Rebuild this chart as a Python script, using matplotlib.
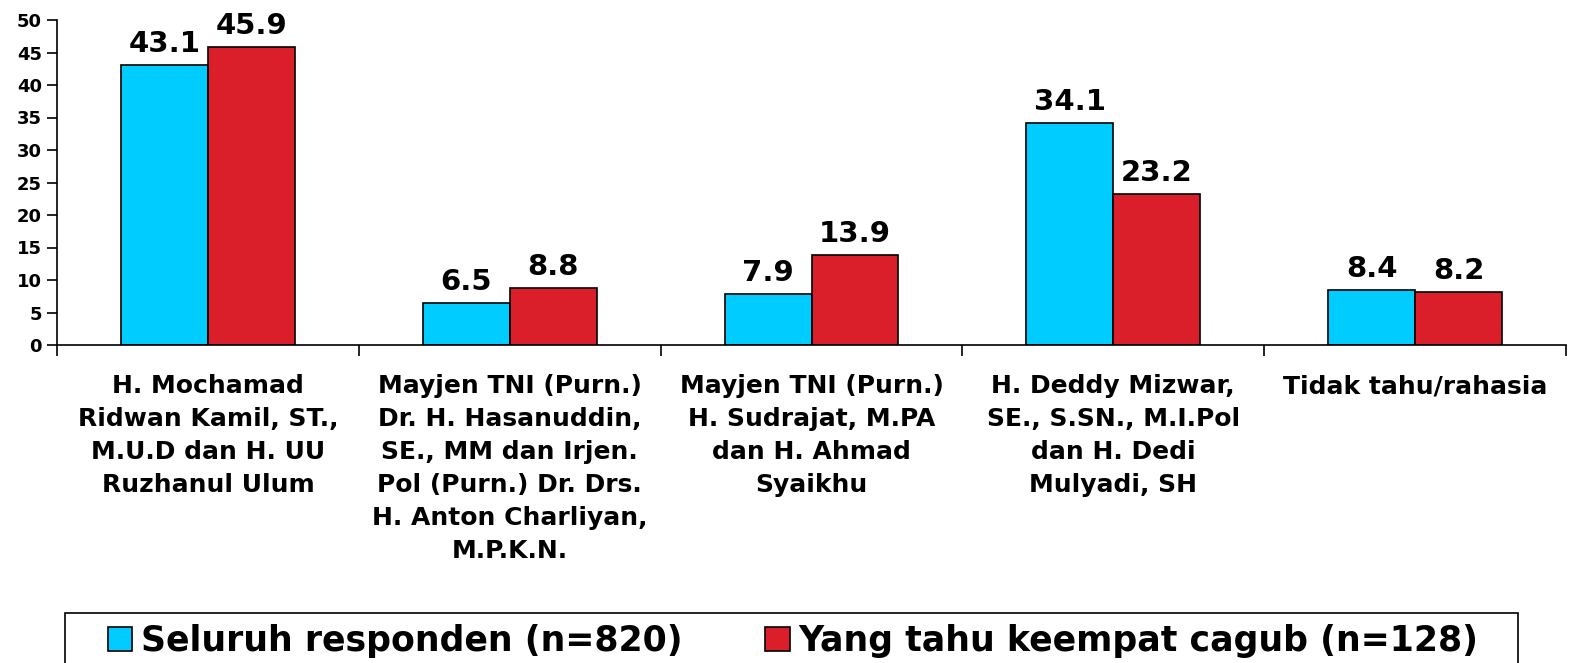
import numpy as np
import matplotlib.pyplot as plt
from matplotlib.patches import Rectangle

plt.rcParams['font.family'] = ['DejaVu Sans']
plt.rcParams['font.weight'] = 'bold'

# kategori (pasangan cagub/cawagub)
categories = [
    "H. Mochamad\nRidwan Kamil, ST.,\nM.U.D dan H. UU\nRuzhanul Ulum",
    "Mayjen TNI (Purn.)\nDr. H. Hasanuddin,\nSE., MM dan Irjen.\nPol (Purn.) Dr. Drs.\nH. Anton Charliyan,\nM.P.K.N.",
    "Mayjen TNI (Purn.)\nH. Sudrajat, M.PA\ndan H. Ahmad\nSyaikhu",
    "H. Deddy Mizwar,\nSE., S.SN., M.I.Pol\ndan H. Dedi\nMulyadi, SH",
    "Tidak tahu/rahasia",
]
seluruh = [43.1, 6.5, 7.9, 34.1, 8.4]
tahu_empat = [45.9, 8.8, 13.9, 23.2, 8.2]
series_names = ["Seluruh responden (n=820)", "Yang tahu keempat cagub (n=128)"]

fig = plt.figure(figsize=(15.69, 6.63), dpi=100)
ax = fig.add_axes([57/1569, 1 - 345/663, (1566 - 57)/1569, (345 - 20)/663])

x = np.arange(len(categories))
w = 0.288
b1 = ax.bar(x - w/2, seluruh, w, color='#00CCFF', edgecolor='black', linewidth=1.2, label=series_names[0])
b2 = ax.bar(x + w/2, tahu_empat, w, color='#DA1F2A', edgecolor='black', linewidth=1.2, label=series_names[1])

for bars, vals in [(b1, seluruh), (b2, tahu_empat)]:
    for r, v in zip(bars, vals):
        ax.annotate(f"{v}", (r.get_x() + r.get_width()/2, v), xytext=(0, 5),
                    textcoords='offset points', ha='center', va='bottom',
                    fontsize=21, fontweight='bold')

ax.set_xlim(-0.5, len(categories) - 0.5)
ax.set_ylim(0, 50)
ax.set_yticks(np.arange(0, 51, 5))
ax.tick_params(axis='y', length=7, width=1.2, labelsize=13, pad=4)

# label di tengah grup, tick di batas grup
ax.set_xticks(x)
ax.set_xticklabels(categories, fontsize=18, fontweight='bold', linespacing=1.47)
ax.tick_params(axis='x', which='major', length=0, pad=21)
ax.set_xticks(np.arange(-0.5, len(categories)), minor=True)
ax.tick_params(axis='x', which='minor', length=8, width=1.2)

for s in ['top', 'right']:
    ax.spines[s].set_visible(False)
for s in ['left', 'bottom']:
    ax.spines[s].set_linewidth(1.2)

# kotak legenda (terpotong di bawah)
fig.patches.append(Rectangle((65/1569, -0.05), (1518 - 65)/1569, 0.05 + 50/663,
                             transform=fig.transFigure, fill=False,
                             edgecolor='black', linewidth=1.2))
fig.legend(handles=[b1, b2], labels=series_names, loc='center',
           bbox_to_anchor=(793/1569, 1 - 641/663), ncol=2, frameon=False,
           prop={'size': 25, 'weight': 'bold'}, handlelength=0.7, handleheight=0.7,
           handletextpad=0.25, columnspacing=2.4, borderpad=0)

fig.savefig('out.png', dpi=100)
